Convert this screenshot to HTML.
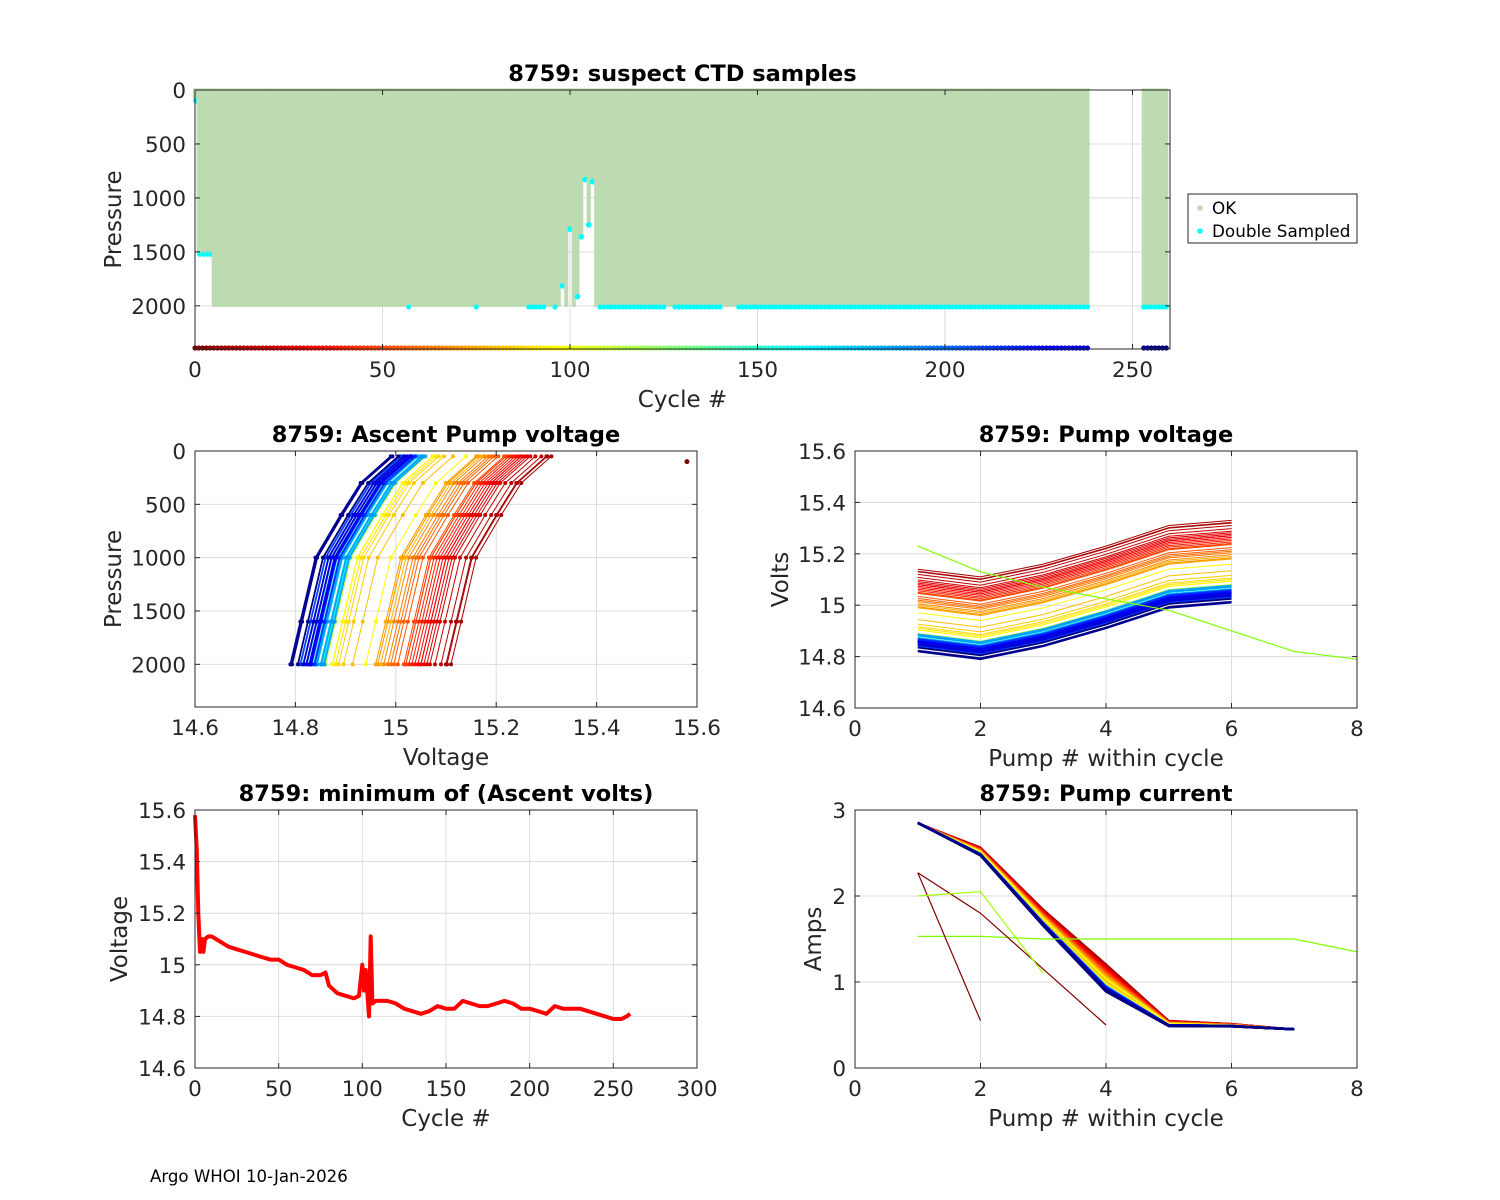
<!DOCTYPE html>
<html><head><meta charset="utf-8"><style>
body{margin:0;background:#fff;}
svg{display:block;font-family:"DejaVu Sans","Liberation Sans",sans-serif;}
</style></head><body>
<svg id="fig" width="1500" height="1200" viewBox="0 0 1500 1200"></svg>
<script>
// ---------- data ----------
const minCycles=[0,1,2,3,4,5,6,8,10,15,20,25,30,35,40,45,50,55,60,65,70,75,78,80,85,90,95,98,100,101,102,104,105,106,108,115,120,125,130,135,140,145,150,155,160,165,170,175,180,185,190,195,200,205,210,215,220,225,230,235,240,245,250,255,258,260];
const minVolts=[15.58,15.45,15.2,15.05,15.1,15.05,15.1,15.11,15.11,15.09,15.07,15.06,15.05,15.04,15.03,15.02,15.02,15.0,14.99,14.98,14.96,14.96,14.97,14.92,14.89,14.88,14.87,14.88,15.0,14.9,14.98,14.8,15.11,14.85,14.86,14.86,14.85,14.83,14.82,14.81,14.82,14.84,14.83,14.83,14.86,14.85,14.84,14.84,14.85,14.86,14.85,14.83,14.83,14.82,14.81,14.84,14.83,14.83,14.83,14.82,14.81,14.8,14.79,14.79,14.8,14.81];
const profCycles=[3,6,9,12,15,18,21,24,27,30,33,36,39,42,45,48,51,54,57,60,63,66,69,72,75,78,81,84,87,90,93,96,99,108,111,114,117,120,123,126,129,132,135,138,141,144,147,150,153,156,159,162,165,168,171,174,177,180,183,186,189,192,195,198,201,204,207,210,213,216,219,222,225,228,231,234,237,253,256,259];
const profPressures=[2000,1600,1000,600,300,50];
const profOffsets=[0.0,0.02,0.05,0.1,0.14,0.2];
const pumpNums=[1,2,3,4,5,6];
const pumpOffsets=[0.03,0.0,0.05,0.12,0.2,0.22];
const currentBase=[2.85,2.52,1.75,1.05,0.52,0.5,0.45];
const currentSlope=[0,0.3,0.6,1.0,0.2,0.1,0];
const segments=[[0,238],[253,259]];
const shortCycles=[0,1,2,3,4,98,100,102,103,104,105,106];
const shortPress=[100,1520,1520,1520,1520,1815,1290,1915,1360,830,1250,850];
const dblRanges=[[57,57],[75,75],[89,93],[96,96],[108,125],[128,140],[145,238],[253,259]];
const outlierV=[[1,15.23],[2,15.13],[3,15.07],[5,14.98],[7,14.82],[8,14.79]];
const outlierA=[[1,1.53],[2,1.53],[3,1.5],[4,1.5],[7,1.5],[8,1.35]];
const outlierA2=[[1,2.27],[2,0.55]];
const outlierA3=[[1,2.27],[2,1.8],[4,0.5]];
const outlierA4=[[1,2.0],[2,2.05],[3,1.1]];

// ---------- helpers ----------
const svg=document.getElementById('fig');
const NS='http://www.w3.org/2000/svg';
function mk(tag,attrs,parent){const e=document.createElementNS(NS,tag);for(const k in attrs)e.setAttribute(k,attrs[k]);(parent||svg).appendChild(e);return e;}
function jet(v){const c=x=>Math.round(255*Math.max(0,Math.min(1,x)));return `rgb(${c(1.5-Math.abs(4*v-3))},${c(1.5-Math.abs(4*v-2))},${c(1.5-Math.abs(4*v-1))})`;}
function cyc2col(c){return jet(1-c/259);}
function minAt(c){for(let i=0;i<minCycles.length-1;i++){if(c>=minCycles[i]&&c<=minCycles[i+1]){const t=(c-minCycles[i])/(minCycles[i+1]-minCycles[i]);return minVolts[i]+t*(minVolts[i+1]-minVolts[i]);}}return minVolts[minVolts.length-1];}
function txt(x,y,s,o,name){const t=mk('text',Object.assign({x:x,y:y,'font-size':21.5,fill:'#262626'},o||{}));t.textContent=s;return t;}
function axes(p){
 const sx=v=>p.x0+(v-p.xmin)/(p.xmax-p.xmin)*(p.x1-p.x0);
 const sy=p.rev?(v=>p.y0+(v-p.ymin)/(p.ymax-p.ymin)*(p.y1-p.y0)):(v=>p.y1-(v-p.ymin)/(p.ymax-p.ymin)*(p.y1-p.y0));
 const g=mk('g',{});
 mk('rect',{x:p.x0,y:p.y0,width:p.x1-p.x0,height:p.y1-p.y0,fill:'#fff'},g);
 const grid=mk('g',{stroke:'#dcdcdc','stroke-width':1},g);
 p.xticks.forEach(v=>mk('line',{x1:sx(v),x2:sx(v),y1:p.y0,y2:p.y1},grid));
 p.yticks.forEach(v=>mk('line',{x1:p.x0,x2:p.x1,y1:sy(v),y2:sy(v)},grid));
 const plot=mk('g',{},g);
 return {sx,sy,g,plot,p};
}
function finish(a){
 const p=a.p,g=a.g,sx=a.sx,sy=a.sy;
 mk('rect',{x:p.x0,y:p.y0,width:p.x1-p.x0,height:p.y1-p.y0,fill:'none',stroke:'#262626','stroke-width':1},g);
 p.xticks.forEach(v=>{mk('line',{x1:sx(v),x2:sx(v),y1:p.y1,y2:p.y1-5,stroke:'#262626'},g);mk('line',{x1:sx(v),x2:sx(v),y1:p.y0,y2:p.y0+5,stroke:'#262626'},g);
  txt(sx(v),p.y1+28,String(v),{'text-anchor':'middle'},'x-tick-label');});
 p.yticks.forEach(v=>{mk('line',{x1:p.x0,x2:p.x0+5,y1:sy(v),y2:sy(v),stroke:'#262626'},g);mk('line',{x1:p.x1,x2:p.x1-5,y1:sy(v),y2:sy(v),stroke:'#262626'},g);
  txt(p.x0-9,sy(v)+8,String(v),{'text-anchor':'end'},'y-tick-label');});
 txt((p.x0+p.x1)/2,p.y0-9,p.title,{'text-anchor':'middle','font-weight':'bold','font-size':22.5,fill:'#000'},'chart-title');
 txt((p.x0+p.x1)/2,p.y1+58,p.xl,{'text-anchor':'middle','font-size':23},'x-axis-title');
 txt(0,0,p.yl,{'text-anchor':'middle','font-size':23,transform:`translate(${p.ylx},${(p.y0+p.y1)/2}) rotate(-90)`},'y-axis-title');
}
function poly(parent,pts,attrs,name){const e=mk('polyline',Object.assign({points:pts.map(q=>q[0].toFixed(1)+','+q[1].toFixed(1)).join(' '),fill:'none'},attrs),parent);return e;}

// ---------- panel 1 ----------
const a1=axes({name:'suspect-ctd-panel',x0:195,x1:1170,y0:90,y1:349,xmin:0,xmax:260,ymin:0,ymax:2400,rev:true,xticks:[0,50,100,150,200,250],yticks:[0,500,1000,1500,2000],title:'8759: suspect CTD samples',xl:'Cycle #',yl:'Pressure',ylx:121});
segments.forEach(s=>{for(let c=s[0];c<=s[1];c++){
 const k=shortCycles.indexOf(c);const pmax=k>=0?shortPress[k]:2010;
 const r=mk('rect',{x:a1.sx(c-0.55),y:a1.sy(-15),width:a1.sx(1.1)-a1.sx(0),height:a1.sy(pmax)-a1.sy(-15),fill:'#bddbb1'},a1.plot);
 
 if(k>=0&&pmax<2000&&c>4){const d=mk('circle',{cx:a1.sx(c),cy:a1.sy(pmax),r:2.8,fill:'#00ffff'},a1.plot);}
 if(c<=4){const d=mk('circle',{cx:a1.sx(c+0.3),cy:a1.sy(pmax),r:2.8,fill:'#00ffff'},a1.plot);}
 const cd=mk('circle',{cx:a1.sx(c),cy:a1.sy(2400)-1,r:2.6,fill:cyc2col(c)},a1.plot);
}});
dblRanges.forEach(r=>{for(let c=r[0];c<=r[1];c++){const d=mk('circle',{cx:a1.sx(c),cy:a1.sy(2010),r:2.6,fill:'#00ffff'},a1.plot);}});
finish(a1);
const lg=mk('g',{});
mk('rect',{x:1188,y:194,width:169,height:49,fill:'#fff',stroke:'#262626'},lg);
mk('circle',{cx:1200,cy:208,r:2.8,fill:'#bddbb1'},lg);
mk('circle',{cx:1200,cy:231,r:2.8,fill:'#00ffff'},lg);
lg.appendChild(txt(1212,214,'OK',{'font-size':16.8,fill:'#000'},'legend-entry-ok'));
lg.appendChild(txt(1212,237,'Double Sampled',{'font-size':16.8,fill:'#000'},'legend-entry-double-sampled'));

// ---------- panel 2 ----------
const a2=axes({name:'ascent-pump-voltage-panel',x0:195,x1:697,y0:451,y1:707,xmin:14.6,xmax:15.6,ymin:0,ymax:2400,rev:true,xticks:[14.6,14.8,15,15.2,15.4,15.6],yticks:[0,500,1000,1500,2000],title:'8759: Ascent Pump voltage',xl:'Voltage',yl:'Pressure',ylx:121});
profCycles.forEach(c=>{const base=minAt(c);const col=cyc2col(c);
 const pts=profPressures.map((pr,i)=>[a2.sx(base+profOffsets[i]),a2.sy(pr)]);
 poly(a2.plot,pts,{stroke:col,'stroke-width':c>200?1.8:1},'ascent-profile-line');
 pts.forEach(q=>{const d=mk('circle',{cx:q[0],cy:q[1],r:2,fill:col},a2.plot);});
});
{const d=mk('circle',{cx:a2.sx(minVolts[0]),cy:a2.sy(100),r:2.5,fill:cyc2col(0)},a2.plot);}
finish(a2);

// ---------- panel 3 ----------
const a3=axes({name:'pump-voltage-panel',x0:855,x1:1357,y0:451,y1:708,xmin:0,xmax:8,ymin:14.6,ymax:15.6,rev:false,xticks:[0,2,4,6,8],yticks:[14.6,14.8,15,15.2,15.4,15.6],title:'8759: Pump voltage',xl:'Pump # within cycle',yl:'Volts',ylx:788});
profCycles.forEach(c=>{const base=minAt(c);const col=cyc2col(c);
 const pts=pumpNums.map((n,i)=>[a3.sx(n),a3.sy(base+pumpOffsets[i])]);
 poly(a3.plot,pts,{stroke:col,'stroke-width':c>200?1.8:1},'pump-voltage-line');
});
poly(a3.plot,outlierV.map(q=>[a3.sx(q[0]),a3.sy(q[1])]),{stroke:'#80ff00','stroke-width':1.2},'outlier-voltage-line');
finish(a3);

// ---------- panel 4 ----------
const a4=axes({name:'minimum-ascent-volts-panel',x0:195,x1:697,y0:810,y1:1068,xmin:0,xmax:300,ymin:14.6,ymax:15.6,rev:false,xticks:[0,50,100,150,200,250,300],yticks:[14.6,14.8,15,15.2,15.4,15.6],title:'8759: minimum of (Ascent volts)',xl:'Cycle #',yl:'Voltage',ylx:127});
poly(a4.plot,minCycles.map((c,i)=>[a4.sx(c),a4.sy(minVolts[i])]),{stroke:'#ff0000','stroke-width':4,'stroke-linejoin':'round'},'min-voltage-line');
finish(a4);

// ---------- panel 5 ----------
const a5=axes({name:'pump-current-panel',x0:855,x1:1357,y0:810,y1:1068,xmin:0,xmax:8,ymin:0,ymax:3,rev:false,xticks:[0,2,4,6,8],yticks:[0,1,2,3],title:'8759: Pump current',xl:'Pump # within cycle',yl:'Amps',ylx:821});
profCycles.forEach(c=>{const base=minAt(c);const col=cyc2col(c);
 const pts=currentBase.map((v,i)=>[a5.sx(i+1),a5.sy(v+currentSlope[i]*(base-14.95))]);
 poly(a5.plot,pts,{stroke:col,'stroke-width':c>200?2.5:1.5},'pump-current-line');
});
poly(a5.plot,outlierA.map(q=>[a5.sx(q[0]),a5.sy(q[1])]),{stroke:'#80ff00','stroke-width':1.2},'outlier-current-line');
poly(a5.plot,outlierA2.map(q=>[a5.sx(q[0]),a5.sy(q[1])]),{stroke:'#800000','stroke-width':1.2},'outlier-current-line');
poly(a5.plot,outlierA3.map(q=>[a5.sx(q[0]),a5.sy(q[1])]),{stroke:'#800000','stroke-width':1.2},'outlier-current-line');
poly(a5.plot,outlierA4.map(q=>[a5.sx(q[0]),a5.sy(q[1])]),{stroke:'#a0ff00','stroke-width':1.2},'outlier-current-line');
finish(a5);

txt(150,1182,'Argo WHOI 10-Jan-2026',{'font-size':16.6,fill:'#000'},'footer-credit');
</script>
</body></html>
